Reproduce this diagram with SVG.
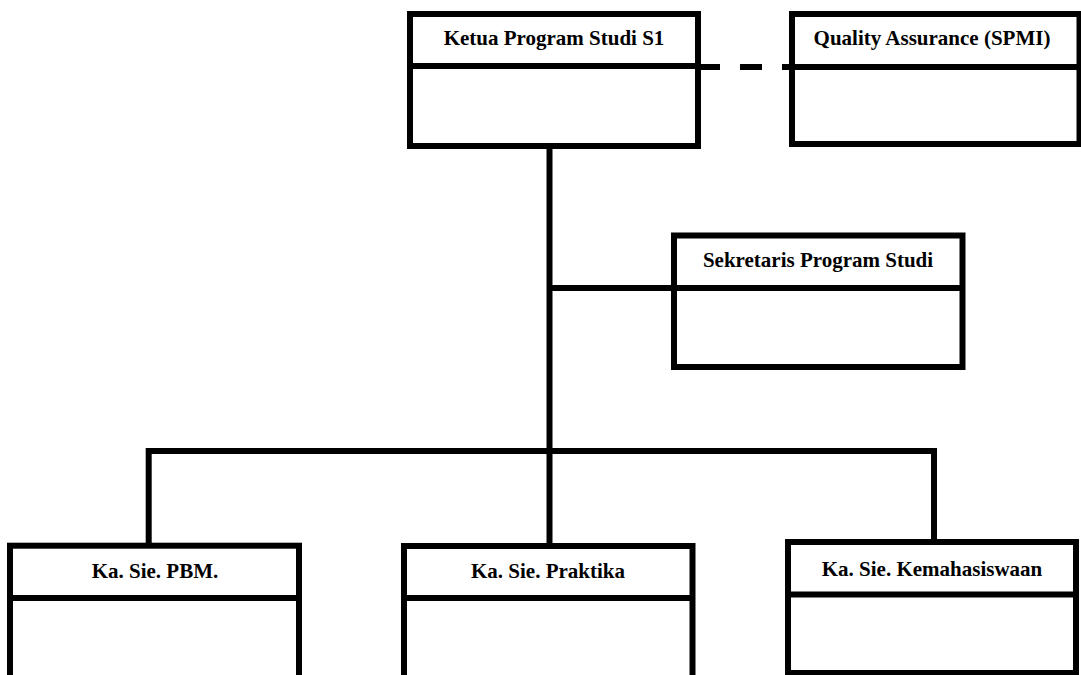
<svg xmlns="http://www.w3.org/2000/svg" width="1081" height="675" viewBox="0 0 1081 675">
<style>
.box{fill:#fff;stroke:#000;stroke-width:6}
.div{stroke:#000;stroke-width:6}
.lbl{font-family:"Liberation Serif","Times New Roman",serif;font-weight:bold;font-size:21px;fill:#000;text-anchor:middle}
.con{fill:none;stroke:#000;stroke-width:6}
</style>
<rect width="1081" height="675" fill="#fff"/>
<g id="connectors">
<line class="con" x1="549.5" y1="146" x2="549.5" y2="546"/>
<line class="con" x1="549.5" y1="288" x2="674" y2="288"/>
<polyline class="con" points="148.7,545.7 148.7,451 934,451 934,542"/>
<line class="con" x1="698" y1="67" x2="792" y2="67" stroke-dasharray="22 20"/>
</g>
<g id="ketua">
<rect class="box" x="410" y="14" width="288" height="132"/>
<line class="div" x1="410" y1="66" x2="698" y2="66"/>
<text class="lbl" x="554" y="45">Ketua Program Studi S1</text>
</g>
<g id="qa">
<rect class="box" x="792" y="14" width="287.5" height="130"/>
<line class="div" x1="792" y1="67" x2="1079.5" y2="67"/>
<text class="lbl" x="932" y="45">Quality Assurance (SPMI)</text>
</g>
<g id="sekretaris">
<rect class="box" x="674" y="235.5" width="288.5" height="131.5"/>
<line class="div" x1="674" y1="288" x2="962.5" y2="288"/>
<text class="lbl" x="818" y="267">Sekretaris Program Studi</text>
</g>
<g id="pbm">
<rect class="box" x="10" y="545.7" width="289" height="160"/>
<line class="div" x1="10" y1="598" x2="299" y2="598"/>
<text class="lbl" x="155" y="578">Ka. Sie. PBM.</text>
</g>
<g id="praktika">
<rect class="box" x="404" y="546" width="288.5" height="160"/>
<line class="div" x1="404" y1="598" x2="692.5" y2="598"/>
<text class="lbl" x="548" y="578">Ka. Sie. Praktika</text>
</g>
<g id="kemahasiswaan">
<rect class="box" x="788" y="542" width="288" height="131"/>
<line class="div" x1="788" y1="594.5" x2="1076" y2="594.5"/>
<text class="lbl" x="932" y="576">Ka. Sie. Kemahasiswaan</text>
</g>
</svg>
